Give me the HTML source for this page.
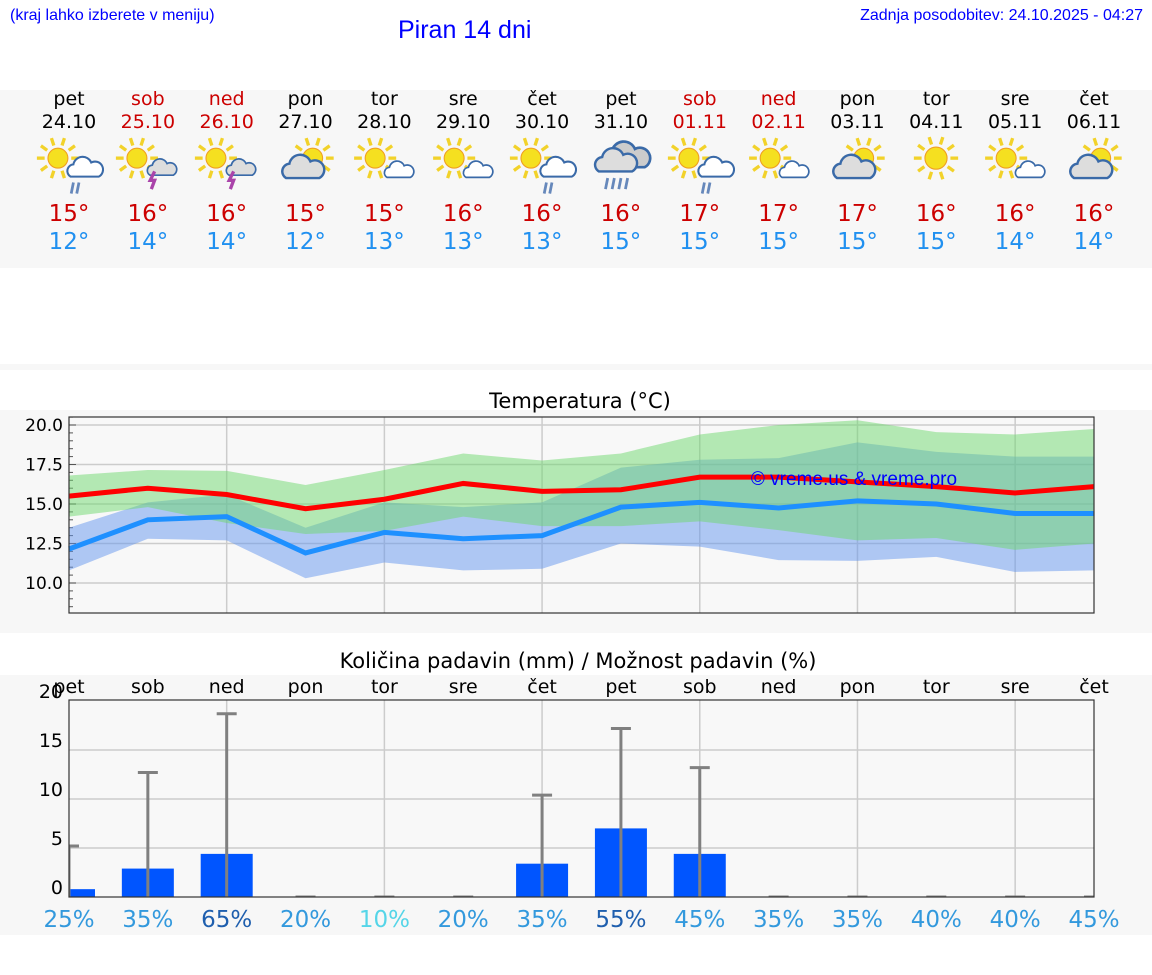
<!DOCTYPE html>
<html><head><meta charset="utf-8">
<style>
body{margin:0;width:1152px;height:975px;background:#fff;font-family:"DejaVu Sans","Liberation Sans",sans-serif;position:relative;overflow:hidden}
.abs{position:absolute}
.band{position:absolute;left:0;width:1152px;background:#f7f7f7}
.day{position:absolute;width:80px;text-align:center;font-size:19px;line-height:23px}
.hi{color:#cc0000;font-size:23px}
.lo{color:#2090f0;font-size:23px}
</style></head><body>
<div class="band" style="top:90px;height:178px"></div>
<div class="band" style="top:364px;height:6px"></div>
<div class="band" style="top:410px;height:223px"></div>
<div class="band" style="top:675px;height:260px"></div>
<div class="abs" style="left:10px;top:7px;font:16px 'Liberation Sans',sans-serif;color:#0000ff">(kraj lahko izberete v meniju)</div>
<div class="abs" style="left:398px;top:16px;font:25px 'Liberation Sans',sans-serif;color:#0000ff">Piran 14 dni</div>
<div class="abs" style="right:9px;top:7px;font:16px 'Liberation Sans',sans-serif;color:#0000ff">Zadnja posodobitev: 24.10.2025 - 04:27</div>
<div id="days"></div>
<svg id="ch" class="abs" style="left:0;top:0" width="1152" height="975"></svg>
<script>
const dayNames=["pet","sob","ned","pon","tor","sre","čet","pet","sob","ned","pon","tor","sre","čet"];
const dates=["24.10","25.10","26.10","27.10","28.10","29.10","30.10","31.10","01.11","02.11","03.11","04.11","05.11","06.11"];
const weekend=[0,1,1,0,0,0,0,0,1,1,0,0,0,0];
const hiT=[15,16,16,15,15,16,16,16,17,17,17,16,16,16];
const loT=[12,14,14,12,13,13,13,15,15,15,15,15,14,14];
const icons=[0,1,1,3,4,4,0,2,0,4,3,5,4,3];
const tMax=[15.5,16.0,15.6,14.7,15.3,16.3,15.8,15.9,16.7,16.7,16.4,16.1,15.7,16.1];
const tMin=[12.15,14.0,14.2,11.9,13.2,12.8,13.0,14.8,15.1,14.75,15.2,15.0,14.4,14.4];
const gHi=[16.8,17.15,17.1,16.2,17.15,18.2,17.75,18.2,19.4,20.0,20.3,19.55,19.4,19.75];
const gLo=[14.2,14.8,13.8,13.1,13.3,14.2,13.6,13.6,13.9,13.35,12.7,12.85,12.1,12.5];
const bHi=[13.5,15.1,15.6,13.5,15.1,14.8,15.1,17.3,17.8,17.9,18.9,18.3,18.0,18.0];
const bLo=[10.8,12.8,12.7,10.3,11.3,10.8,10.9,12.5,12.3,11.45,11.4,11.65,10.7,10.8];
const tTicks=[10.0,12.5,15.0,17.5,20.0];
const rain=[0.8,2.9,4.4,0,0,0,3.4,7.0,4.4,0,0,0,0,0];
const rainMax=[5.2,12.7,18.7,0,0,0,10.4,17.2,13.2,0,0,0,0,0];
const prob=[25,35,65,20,10,20,35,55,45,35,35,40,40,45];
const rTicks=[0,5,10,15,20];
const NS="http://www.w3.org/2000/svg";
const svg=document.getElementById('ch');
const X=i=>69+i*(1094-69)/13;
const TY=v=>425+(20-v)*15.8;
const RY=v=>897-v*9.8;
function el(t,a,p){const e=document.createElementNS(NS,t);for(const k in a)e.setAttribute(k,a[k]);(p||svg).appendChild(e);return e;}
const dd=document.getElementById('days');
function iconSvg(t){
 let s='<svg width="72" height="62" viewBox="-2 -4 64 56">';
 const sun=(cx,cy,r)=>{let o='';for(let k=0;k<10;k++){const a=k*Math.PI/5;o+=`<line x1="${cx+Math.cos(a)*(r+3)}" y1="${cy+Math.sin(a)*(r+3)}" x2="${cx+Math.cos(a)*(r+10)}" y2="${cy+Math.sin(a)*(r+10)}" stroke="#f2d22a" stroke-width="3"/>`;}return o+`<circle cx="${cx}" cy="${cy}" r="${r}" fill="#f5e020" stroke="#f0a020" stroke-width="1"/>`;};
 const cloud=(x,y,sc,f)=>`<g transform="translate(${x},${y}) scale(${sc})"><path d="M4 22 a7 7 0 0 1 3-13 a10 10 0 0 1 19-2 a8 8 0 0 1 8 15 z" fill="${f}" stroke="#3a6aa8" stroke-width="2.2"/></g>`;
 if(t===0){s+=sun(20,16,9)+cloud(28,14,0.85,'#fff')+'<line x1="34" y1="38" x2="32" y2="48" stroke="#6688bb" stroke-width="2.5"/><line x1="39" y1="38" x2="37" y2="48" stroke="#6688bb" stroke-width="2.5"/>';}
 else if(t===1){s+=sun(20,16,9)+cloud(29,16,0.7,'#ddd')+'<path d="M36 28 l-4 8 h4 l-3 8" stroke="#aa44aa" stroke-width="3" fill="none"/>';}
 else if(t===2){s+=cloud(14,0,1.1,'#ccc')+cloud(6,6,1.0,'#ddd')+'<g stroke="#6688bb" stroke-width="2.5"><line x1="18" y1="34" x2="16" y2="44"/><line x1="24" y1="34" x2="22" y2="44"/><line x1="30" y1="34" x2="28" y2="44"/><line x1="36" y1="34" x2="34" y2="44"/></g>';}
 else if(t===3){s+=sun(36,16,9)+cloud(8,12,1.0,'#ddd');}
 else if(t===4){s+=sun(22,16,9)+cloud(30,18,0.7,'#fff');}
 else {s+=sun(30,16,10);}
 return s+'</svg>';
}
for(let i=0;i<14;i++){
 const d=document.createElement('div');
 d.className='day';d.style.left=(X(i)-40)+'px';d.style.top='88px';
 
 
 const c=weekend[i]?'#cc0000':'#000';
 d.innerHTML=`<div style="color:${c}">${dayNames[i]}</div><div style="color:${c}">${dates[i]}</div><div style="height:62px;margin-top:2px;display:flex;justify-content:center">${iconSvg(icons[i])}</div><div class="hi" style="margin-top:2px;line-height:28px">${hiT[i]}°</div><div class="lo" style="line-height:28px">${loT[i]}°</div>`;
 dd.appendChild(d);
}
el('text',{x:580,y:408,'text-anchor':'middle','font-size':21,fill:'#000',}).textContent='Temperatura (°C)';
el('rect',{x:69,y:417,width:1025,height:196,fill:'#f8f8f8'});
for(let i=2;i<14;i+=2)el('line',{x1:X(i),x2:X(i),y1:417,y2:613,stroke:'#ccc','stroke-width':1.5});
for(const v of tTicks){el('line',{x1:69,x2:1094,y1:TY(v),y2:TY(v),stroke:'#ccc','stroke-width':1.5});
 const t=el('text',{x:63,y:TY(v)+6,'text-anchor':'end','font-size':17,fill:'#000'});t.textContent=v.toFixed(1);
 }
for(let v=8.5;v<=20.5;v+=0.5)el('line',{x1:69,x2:v%2.5===0?76:73,y1:TY(v),y2:TY(v),stroke:'#555','stroke-width':1});
function band(hi,lo,fill,name){let d='';hi.forEach((v,i)=>d+=(i?'L':'M')+X(i)+' '+TY(v));for(let i=lo.length-1;i>=0;i--)d+='L'+X(i)+' '+TY(lo[i]);
 const p=el('path',{d:d+'Z',fill:fill});}
band(bHi,bLo,'rgba(100,149,237,0.5)','min-temp-band');
band(gHi,gLo,'rgba(110,215,110,0.5)','max-temp-band');
function line(a,c,name){const p=el('polyline',{points:a.map((v,i)=>X(i)+','+TY(v)).join(' '),fill:'none',stroke:c,'stroke-width':5});
 }
line(tMin,'#1e90ff','min-temp-line');
line(tMax,'#ff0000','max-temp-line');
el('text',{x:854,y:485,'text-anchor':'middle','font-size':19,'font-family':'Liberation Sans',fill:'#0000ff'}).textContent='© vreme.us & vreme.pro';
el('rect',{x:69,y:417,width:1025,height:196,fill:'none',stroke:'#333','stroke-width':1.2});
el('text',{x:578,y:668,'text-anchor':'middle','font-size':21,fill:'#000',}).textContent='Količina padavin (mm) / Možnost padavin (%)';
el('rect',{x:69,y:700,width:1025,height:197,fill:'#f8f8f8'});
for(let i=2;i<14;i+=2)el('line',{x1:X(i),x2:X(i),y1:700,y2:897,stroke:'#ccc','stroke-width':1.5});
for(const v of rTicks){if(v>0&&v<20)el('line',{x1:69,x2:1094,y1:RY(v),y2:RY(v),stroke:'#ccc','stroke-width':1.5});
 const t=el('text',{x:63,y:RY(v)-3,'text-anchor':'end','font-size':19,fill:'#000'});t.textContent=v;
 }
const cp=el('clipPath',{id:'pc'});el('rect',{x:69,y:690,width:1025,height:207},cp);
const g=el('g',{'clip-path':'url(#pc)'});
rain.forEach((v,i)=>{
 const b=el('rect',{x:X(i)-26,y:RY(v),width:52,height:897-RY(v),fill:'#0055ff'},g);
 
 el('line',{x1:X(i),x2:X(i),y1:RY(rainMax[i]),y2:897,stroke:'#808080','stroke-width':3},g);
 el('line',{x1:X(i)-10,x2:X(i)+10,y1:RY(rainMax[i]),y2:RY(rainMax[i]),stroke:'#808080','stroke-width':3},g);
});
dayNames.forEach((n,i)=>{const t=el('text',{x:X(i),y:693,'text-anchor':'middle','font-size':19,fill:'#000'});t.textContent=n;});
el('rect',{x:69,y:700,width:1025,height:197,fill:'none',stroke:'#333','stroke-width':1.2});
prob.forEach((p,i)=>{const c=p>=50?'#1f5fae':(p<=10?'#55d5e8':'#3399dd');
 const t=el('text',{x:X(i),y:927,'text-anchor':'middle','font-size':23,fill:c});t.textContent=p+'%';});
</script>
</body></html>
